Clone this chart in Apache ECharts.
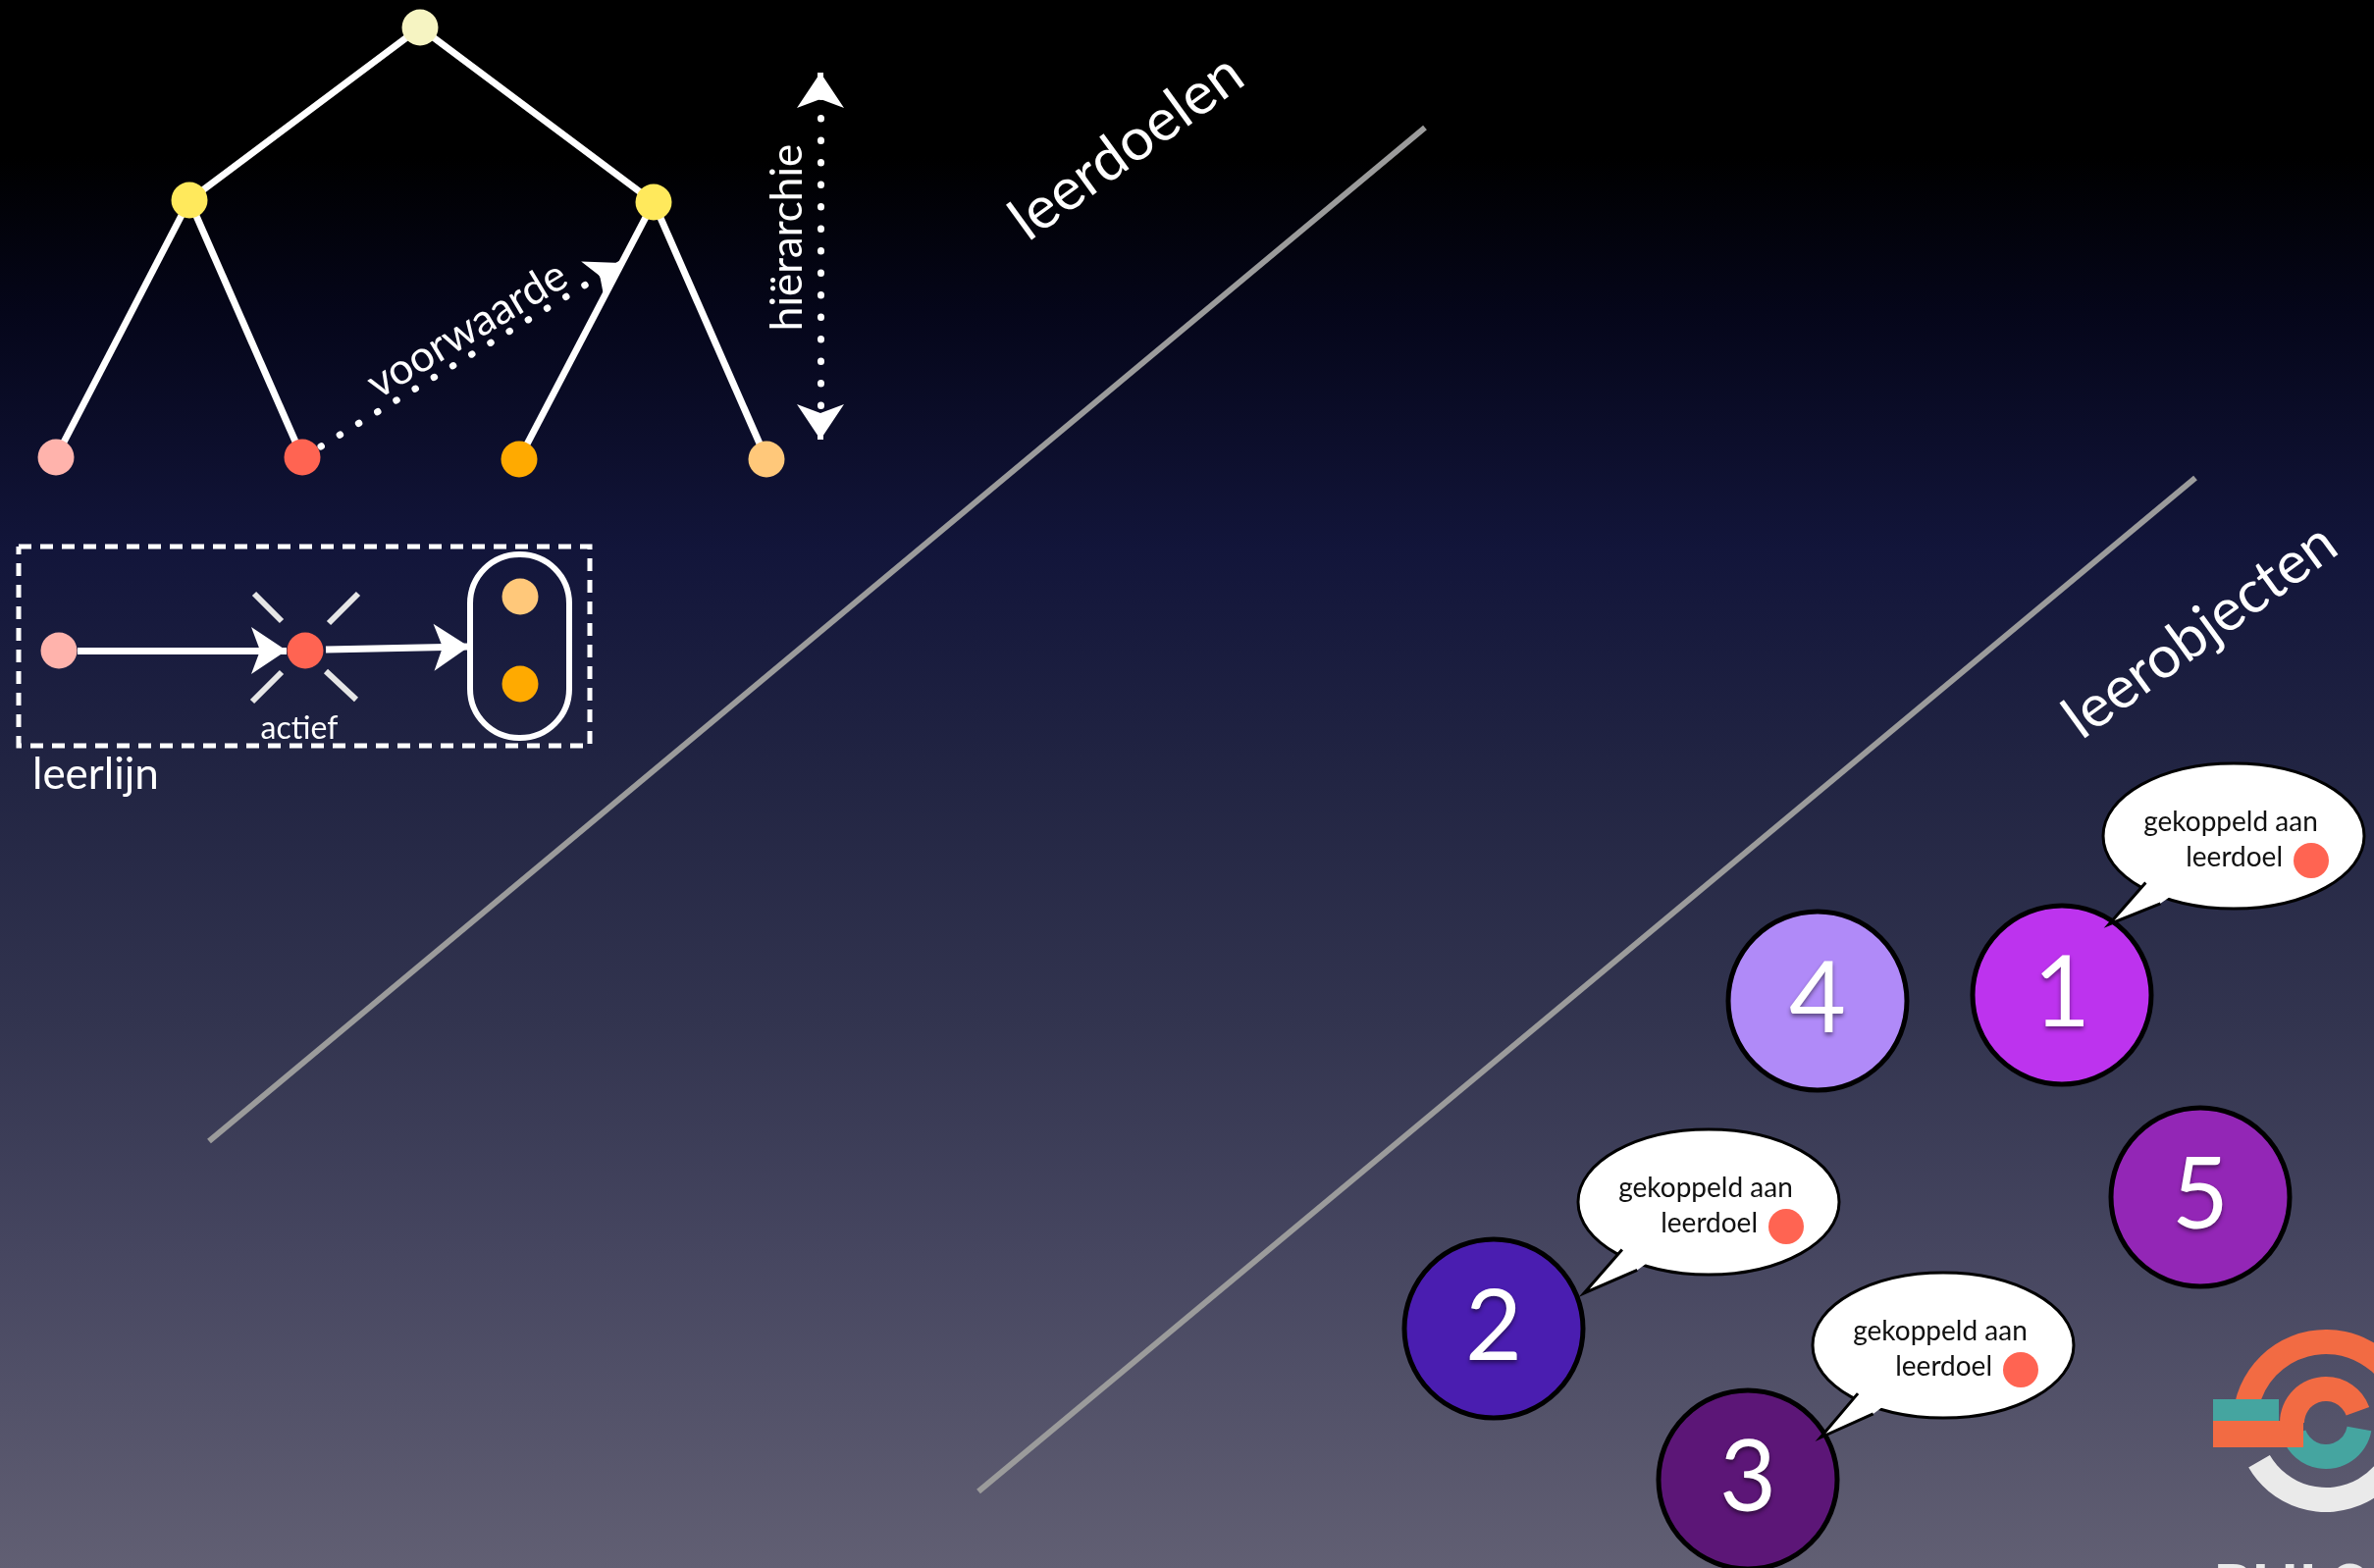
<!DOCTYPE html>
<html><head><meta charset="utf-8">
<script src="https://cdn.jsdelivr.net/npm/echarts@6/dist/echarts.min.js"></script>
<style>html,body{margin:0;padding:0;background:#000;overflow:hidden}#c{width:2419px;height:1598px}</style>
</head><body><div id="c"></div>
<script>
// ---------- data ----------
const treeNodes = [[428,28],[193,204],[666,206],[57,466],[308,466],[529,468],[781,468]];
const treeNodeColors = ['#F6F4C2','#FFE95C','#FFE95C','#FFB3AC','#FF6452','#FFAA00','#FFC87A'];
const treeEdges = [[0,1],[0,2],[1,3],[1,4],[2,5],[2,6]];
const prereqArrow = [[327,455],[633,268]];
const hierarchyArrow = [[836,74],[836,448]];
const leerlijnBox = [[19,557],[601,557],[601,760],[19,760],[19,557]];
const leerlijnNodes = [[60,663],[311,663],[530,608],[530,697]];
const leerlijnColors = ['#FFB3AC','#FF6452','#FFC87A','#FFAA00'];
const leerlijnArrows = [[[79,663],[292,663]],[[332,662],[478,659]]];
const capsuleBox = [[479,565,580,752]];
const sparkRays = [[[259,605],[287,633]],[[365,605],[335,635]],[[257,715],[287,685]],[[363,713],[332,684]]];
const dividers = [[[213,1163],[1452,130]],[[997,1520],[2237,487]]];
const objectNumbers = ['1','2','3','4','5'];
const objectCenters = [[2101,1014],[1522,1354],[1781,1508],[1852,1020],[2242,1220]];
const objectColors = ['#BD33EE','#4A1DB0','#5C1677','#B08AF8','#9326B6'];
const bubbleCenters = [[2276,852],[1741,1225],[1980,1371]];
const bubbleTips = [[2149,942],[1614,1318],[1855,1465]];
const bubbleLine1 = 'gekoppeld aan';
const bubbleLine2 = 'leerdoel';
const textLabels = ['leerdoelen','leerobjecten','hiërarchie','voorwaarde','actief','leerlijn'];
const textAnchors = [[1148,150],[2242,643],[803,242],[476,336],[305,743],[33,790]];
const logoAnchor = [[2370,1450]];
const logoText = 'PULSO';

// ---------- styles ----------
const FONT = 'Lato, "Open Sans", sans-serif';
const textStyles = [
  {rotate:36,size:60,align:'center'},
  {rotate:36,size:60,align:'center'},
  {rotate:90,size:44,align:'center'},
  {rotate:31,size:44,align:'center'},
  {rotate:0,size:32,align:'center'},
  {rotate:0,size:44,align:'left'}
];

// helpers (geometry derived from the data above)
function unit(a,b){const dx=b[0]-a[0],dy=b[1]-a[1],l=Math.hypot(dx,dy);return [dx/l,dy/l];}
function stub(from,to,len){const u=unit(from,to);return [[to[0]-u[0]*len,to[1]-u[1]*len],to];}
function inset(seg,s0,s1){const u=unit(seg[0],seg[1]);
  return [[seg[0][0]+u[0]*s0,seg[0][1]+u[1]*s0],[seg[1][0]-u[0]*s1,seg[1][1]-u[1]*s1]];}

const chart = echarts.init(document.getElementById('c'), null, {renderer:'canvas'});
const lineData = (segs) => segs.map(s => ({coords: s}));
const dotted = {color:'#ffffff',width:7,opacity:1,type:[0.5,22],cap:'round'};

const option = {
  animation:false,
  backgroundColor:{type:'linear',x:0,y:0,x2:0,y2:1,colorStops:[
    {offset:0,color:'#000000'},{offset:0.1,color:'#000000'},{offset:0.2,color:'#05061a'},
    {offset:0.35,color:'#12153a'},{offset:0.5,color:'#222543'},{offset:0.65,color:'#32344f'},
    {offset:0.8,color:'#464660'},{offset:1,color:'#615f73'}]},
  grid:{left:0,right:0,top:0,bottom:0},
  xAxis:{type:'value',min:0,max:2419,show:false},
  yAxis:{type:'value',min:0,max:1598,inverse:true,show:false},
  series:[
    {type:'lines',coordinateSystem:'cartesian2d',silent:true,z:2,
     data:lineData(dividers),lineStyle:{color:'#9b9b9b',width:6,opacity:1}},
    {type:'lines',coordinateSystem:'cartesian2d',silent:true,z:3,
     data:treeEdges.map(e=>({coords:[treeNodes[e[0]],treeNodes[e[1]]]})),
     lineStyle:{color:'#ffffff',width:7,opacity:1}},
    // dotted connectors
    {type:'lines',coordinateSystem:'cartesian2d',silent:true,z:3,
     data:lineData([inset(prereqArrow,0,24),inset(hierarchyArrow,24,24)]),lineStyle:dotted},
    // arrowheads
    {type:'lines',coordinateSystem:'cartesian2d',silent:true,z:3,
     data:lineData([stub(prereqArrow[0],prereqArrow[1],26)]),symbol:['none','arrow'],symbolSize:34,
     lineStyle:{color:'#ffffff',width:6,opacity:1}},
    {type:'lines',coordinateSystem:'cartesian2d',silent:true,z:3,
     data:lineData([stub(hierarchyArrow[1],hierarchyArrow[0],26),stub(hierarchyArrow[0],hierarchyArrow[1],26)]),
     symbol:['none','arrow'],symbolSize:36,lineStyle:{color:'#ffffff',width:6,opacity:1}},
    {type:'lines',coordinateSystem:'cartesian2d',silent:true,z:3,polyline:true,
     data:[{coords:leerlijnBox}],lineStyle:{color:'#ffffff',width:5,opacity:1,type:[13,9]}},
    {type:'lines',coordinateSystem:'cartesian2d',silent:true,z:3,
     data:lineData(leerlijnArrows),symbol:['none','arrow'],symbolSize:36,
     lineStyle:{color:'#ffffff',width:7,opacity:1}},
    {type:'lines',coordinateSystem:'cartesian2d',silent:true,z:3,
     data:lineData(sparkRays),lineStyle:{color:'#e6e6e6',width:6,opacity:1}},
    {type:'custom',coordinateSystem:'cartesian2d',silent:true,z:3,data:capsuleBox,
     renderItem:function(p,api){
       const a=api.coord([api.value(0),api.value(1)]), b=api.coord([api.value(2),api.value(3)]);
       return {type:'rect',shape:{x:a[0],y:a[1],width:b[0]-a[0],height:b[1]-a[1],r:50},
               style:{fill:null,stroke:'#ffffff',lineWidth:6}};
     }},
    {type:'scatter',silent:true,z:4,symbolSize:37,
     data:treeNodes.map((v,i)=>({value:v,itemStyle:{color:treeNodeColors[i],opacity:1}}))},
    {type:'scatter',silent:true,z:4,symbolSize:37,
     data:leerlijnNodes.map((v,i)=>({value:v,itemStyle:{color:leerlijnColors[i],opacity:1}}))},
    {type:'scatter',silent:true,z:5,symbolSize:0,
     data:textLabels.map((t,i)=>({value:textAnchors[i],itemStyle:{opacity:1},
       label:{show:true,formatter:t,position:'inside',rotate:textStyles[i].rotate,
         align:textStyles[i].align,verticalAlign:'middle',color:'#ffffff',opacity:1,
         fontSize:textStyles[i].size,fontFamily:FONT}}))},
    {type:'scatter',silent:true,z:5,symbolSize:182,
     data:objectCenters.map((v,i)=>({value:v,itemStyle:{color:objectColors[i],borderColor:'#000',borderWidth:5,opacity:1},
       label:{show:true,formatter:objectNumbers[i],position:'inside',color:'#fff',fontSize:100,fontFamily:FONT,opacity:1,
         textShadowColor:'rgba(0,0,0,0.45)',textShadowBlur:4,textShadowOffsetY:3}}))},
    {type:'custom',coordinateSystem:'cartesian2d',silent:true,z:6,
     data:bubbleCenters.map((c,i)=>[c[0],c[1],bubbleTips[i][0],bubbleTips[i][1]]),
     renderItem:function(p,api){
       const c=api.coord([api.value(0),api.value(1)]), t=api.coord([api.value(2),api.value(3)]);
       const rx=133, ry=74;
       let dx=c[0]-t[0], dy=c[1]-t[1]; const L=Math.hypot(dx,dy); dx/=L; dy/=L;
       const s=1/Math.sqrt((dx/rx)*(dx/rx)+(dy/ry)*(dy/ry));
       const edge=[c[0]-dx*s, c[1]-dy*s];
       const px=-dy, py=dx, hw=13;
       const e1=[edge[0]+px*hw, edge[1]+py*hw], e2=[edge[0]-px*hw, edge[1]-py*hw];
       const i1=[e1[0]+dx*14,e1[1]+dy*14], i2=[e2[0]+dx*14,e2[1]+dy*14];
       return {type:'group',children:[
         {type:'ellipse',shape:{cx:c[0],cy:c[1],rx:rx,ry:ry},style:{fill:'#ffffff',stroke:'#000',lineWidth:3}},
         {type:'polygon',shape:{points:[i1,e1,t,e2,i2]},style:{fill:'#ffffff'}},
         {type:'polyline',shape:{points:[e1,t,e2]},style:{fill:null,stroke:'#000',lineWidth:3}},
         {type:'text',style:{text:bubbleLine1,x:c[0]-3,y:c[1]-14,align:'center',verticalAlign:'middle',
            font:'28px '+FONT,fill:'#111'}},
         {type:'text',style:{text:bubbleLine2,x:c[0]+50,y:c[1]+22,align:'right',verticalAlign:'middle',
            font:'28px '+FONT,fill:'#111'}},
         {type:'circle',shape:{cx:c[0]+79,cy:c[1]+25,r:18},style:{fill:'#FF6452'}}
       ]};
     }},
    {type:'custom',coordinateSystem:'cartesian2d',silent:true,z:6,data:logoAnchor,
     renderItem:function(p,api){
       const c=api.coord([api.value(0),api.value(1)]);
       const d=Math.PI/180;
       return {type:'group',children:[
         {type:'sector',shape:{cx:c[0],cy:c[1],r0:70,r:95,startAngle:-168*d,endAngle:-15*d},style:{fill:'#F26B43'}},
         {type:'sector',shape:{cx:c[0],cy:c[1],r0:66,r:91,startAngle:40*d,endAngle:150*d},style:{fill:'#EAEAEA'}},
         {type:'sector',shape:{cx:c[0],cy:c[1],r0:22,r:47,startAngle:10*d,endAngle:160*d},style:{fill:'#45A5A0'}},
         {type:'rect',shape:{x:c[0]-115,y:c[1]-24,width:67,height:22},style:{fill:'#45A5A0'}},
         {type:'rect',shape:{x:c[0]-115,y:c[1]-2,width:92,height:27},style:{fill:'#F26B43'}},
         {type:'sector',shape:{cx:c[0],cy:c[1],r0:22,r:47,startAngle:-180*d,endAngle:-20*d},style:{fill:'#F26B43'}},
         {type:'text',style:{text:logoText,x:c[0]-115,y:c[1]+137,align:'left',verticalAlign:'top',
            font:'bold 64px '+FONT,fill:'#EAEAEA'}}
       ]};
     }}
  ]
};
chart.setOption(option);
</script>
</body></html>
